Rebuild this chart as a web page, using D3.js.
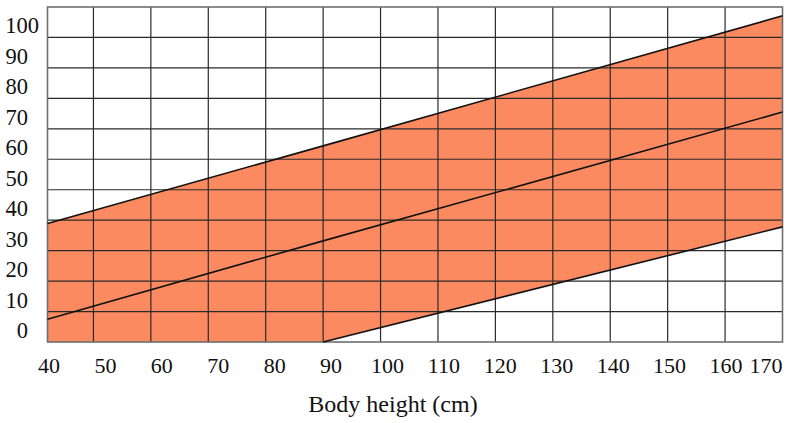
<!DOCTYPE html>
<html>
<head>
<meta charset="utf-8">
<script src="https://cdn.jsdelivr.net/npm/d3@7"></script>
<style>
  html, body { margin: 0; padding: 0; background: #fff; }
  svg { display: block; }
  text { font-family: "Liberation Serif", "Times New Roman", serif; fill: #111; }
</style>
</head>
<body>
<svg id="chart" width="795" height="423"></svg>
<script>
// Body height (cm) along the band
const bandHeights = [42, 90, 170];
// Upper limit, middle reference and lower limit at those heights
const upperValues = [38.9, 64.4, 107.1];
const middleValues = [7.5, 33.2, 75.5];
const lowerValues = [0, 0, 37.8];

// Axis ticks
const xGridTicks = [50, 60, 70, 80, 90, 100, 110, 120, 130, 140, 150, 160];
const xTickLabels = [40, 50, 60, 70, 80, 90, 100, 110, 120, 130, 140, 150, 160, 170];
const yGridTicks = [10, 20, 30, 40, 50, 60, 70, 80, 90, 100];
const yTickLabels = [0, 10, 20, 30, 40, 50, 60, 70, 80, 90, 100];

const svg = d3.select("#chart");
const plotLeft = 47.5, plotRight = 782.5, plotTop = 7, plotBottom = 342;

const x = d3.scaleLinear().domain([42, 170]).range([plotLeft, plotRight]);
const y = d3.scaleLinear().domain([0, 110]).range([plotBottom, plotTop]);
// tick labels sit on a slightly narrower spacing than the grid
const xLabel = d3.scaleLinear().domain([40, 160]).range([49, 726]);

const band = bandHeights.map((h, i) => ({ h, up: upperValues[i], mid: middleValues[i], low: lowerValues[i] }));

// shaded band between the upper and lower limits
svg.append("path")
  .datum(band)
  .attr("d", d3.area().x(d => x(d.h)).y0(d => y(d.low)).y1(d => y(d.up)))
  .attr("fill", "#FC8A60");

// grid
const grid = svg.append("g").attr("stroke", "#2a2a2a").attr("stroke-width", 1.2);
grid.selectAll("line.v").data(xGridTicks).join("line").attr("class", "v")
  .attr("x1", d => x(d)).attr("x2", d => x(d)).attr("y1", plotTop).attr("y2", plotBottom);
grid.selectAll("line.h").data(yGridTicks).join("line").attr("class", "h")
  .attr("x1", plotLeft).attr("x2", plotRight).attr("y1", d => y(d)).attr("y2", d => y(d));

svg.append("rect")
  .attr("x", plotLeft).attr("y", plotTop).attr("width", plotRight - plotLeft).attr("height", plotBottom - plotTop)
  .attr("fill", "none").attr("stroke", "#6e6e6e").attr("stroke-width", 1.6);

// boundary and reference lines
const line = d3.line().x(d => x(d.h));
svg.append("path").datum(band)
  .attr("d", line.y(d => y(d.up))).attr("fill", "none").attr("stroke", "#111").attr("stroke-width", 1.6);
svg.append("path").datum(band)
  .attr("d", line.y(d => y(d.mid))).attr("fill", "none").attr("stroke", "#111").attr("stroke-width", 1.6);
svg.append("path").datum(band.filter(d => d.h >= 90))
  .attr("d", line.y(d => y(d.low))).attr("fill", "none").attr("stroke", "#111").attr("stroke-width", 1.6);

// x tick labels
const lastX = xTickLabels[xTickLabels.length - 1];
svg.append("g").selectAll("text").data(xTickLabels).join("text")
  .attr("x", d => d === lastX ? plotRight : xLabel(d))
  .attr("y", 373)
  .attr("text-anchor", d => d === lastX ? "end" : "middle")
  .attr("font-size", 22)
  .text(d => d);

// y tick labels, sitting just above their grid line
svg.append("g").selectAll("text").data(yTickLabels).join("text")
  .attr("x", d => String(d).length > 2 ? 39 : 28)
  .attr("y", d => y(d) - 4)
  .attr("text-anchor", "end")
  .attr("font-size", 22.5)
  .text(d => d);

// axis title
svg.append("text")
  .attr("x", 393).attr("y", 412)
  .attr("text-anchor", "middle")
  .attr("font-size", 24)
  .text("Body height (cm)");
</script>
</body>
</html>
